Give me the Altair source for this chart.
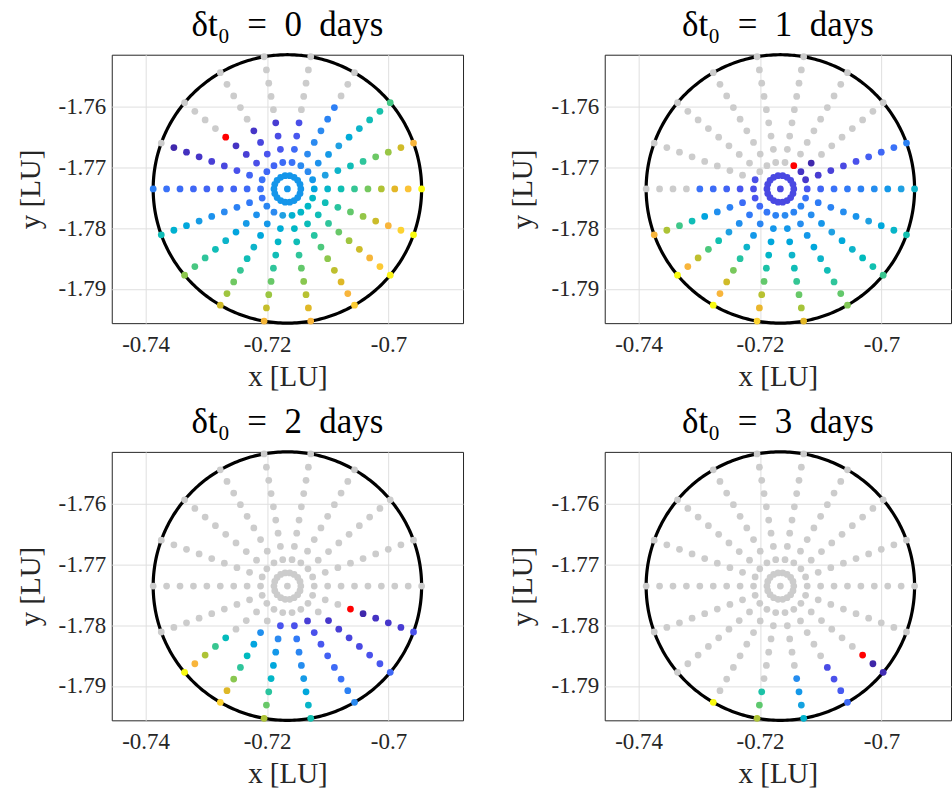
import numpy as np
import pandas as pd
import altair as alt

# ---------------- data ----------------
ANGLES_DEG = [0, 20, 40, 60, 80, 100, 120, 140, 160, 180, 200, 220, 240, 260, 280, 300, 320, 340]
RING_STEPS = [1, 2, 3, 4, 5, 6, 7, 8, 9, 10]          # radius = RADIUS * step / 10
CENTER_X, CENTER_Y, RADIUS = -0.71665, -1.77355, 0.0221

X_TICKS = [-0.74, -0.72, -0.70]
Y_TICKS = [-1.79, -1.78, -1.77, -1.76]
TITLES = ["δt₀\u2002=\u20020\u2002days", "δt₀\u2002=\u20021\u2002days",
          "δt₀\u2002=\u20022\u2002days", "δt₀\u2002=\u20023\u2002days"]

# colour levels (parula-like), value 0..16
PARULA_LEVELS = list(range(17))
PARULA_COLORS = ["#3e26a8", "#4839cf", "#4a54ee", "#3a72f8", "#2b8af0", "#1fa0e2",
                 "#0db4ca", "#10bdb7", "#2fc59b", "#55c874", "#82c856", "#a6c43a",
                 "#c8bd2b", "#e3b727", "#f8b53b", "#fcd231", "#f9fb0e"]

G = None  # grey (no value)

P0_CENTER = 4.5
P0 = [
    [4.5, 5.2, 6.1, 7.2, 8.2, 9.7, 11.3, 13, 14.5, 16],
    [4.5, 4.6, 5, 6, 7, 8, 9.5, 10.6, 12.3, 14],
    [4.5, 4, 4.3, 4.7, 5, 5.5, 6, 7, 7.5, 8.6],
    [4.5, 4, 4, 4, 4, 3.7, 3.5, G, G, G],
    [4.5, 3.0, 2.7, 2.1, 1.8, G, G, G, G, G],
    [4.5, 2.8, 2.1, 1.7, 1.1, G, G, G, G, G],
    [4.5, 2.5, 2.0, 1.5, 0.8, G, G, G, G, G],
    [4.5, 2.6, 1.8, 1.2, 0.7, G, G, G, G, G],
    [4.5, 3.0, 2.5, 1.9, 1.5, 1.2, 0.8, 0.6, 0.1, G],
    [4.5, 3.0, 2.7, 2.5, 2.5, 2.5, 2.6, 2.8, 3.0, 3.5],
    [4.5, 3.0, 3.3, 3.6, 4.0, 4.3, 4.8, 5.3, 5.8, 7.0],
    [4.5, 3.8, 4.3, 4.7, 5.2, 6.0, 7.0, 8.0, 8.7, 10.3],
    [4.5, 4.0, 4.6, 5.3, 6.0, 7.0, 8.2, 9.6, 10.8, 12.3],
    [4.5, 5.0, 5.6, 6.2, 7.0, 8.0, 9.4, 10.7, 11.9, 13.8],
    [4.5, 5.8, 6.3, 7.0, 8.0, 9.3, 10.2, 11.5, 12.9, 14.0],
    [4.5, 6.2, 6.9, 7.8, 8.8, 10.3, 11.7, 12.8, 14.0, 14.8],
    [4.5, 6.3, 7.0, 8.0, 9.4, 10.8, 12.2, 13.9, 14.7, 15.8],
    [4.5, 6.3, 7.0, 7.9, 9.3, 10.5, 12.1, 14.0, 15.0, 16.0],
]

P1_CENTER = 1.6
P1 = [
    [1.6, 2.1, 2.6, 3.0, 3.3, 3.6, 4.1, 4.6, 5.0, 6.0],
    [1.6, 0.9, 1.1, 1.3, 1.6, 1.9, 2.3, 2.6, 3.0, 3.6],
    [1.6, 0.7, 0.1, G, G, G, G, G, G, G],
    [1.6, G, G, G, G, G, G, G, G, G],
    [1.6, G, G, G, G, G, G, G, G, G],
    [1.6, G, G, G, G, G, G, G, G, G],
    [1.6, G, G, G, G, G, G, G, G, G],
    [1.6, G, G, G, G, G, G, G, G, G],
    [1.6, 1.8, G, G, G, G, G, G, G, G],
    [1.6, 1.8, 2.1, 2.5, 2.8, 3.0, G, G, G, G],
    [1.6, 2.0, 2.8, 3.6, 4.2, 5.2, 7.0, 8.5, 11.2, 14.0],
    [1.6, 2.7, 3.3, 4.2, 5.0, 7.3, 8.8, 11.7, 14.0, 16.0],
    [1.6, 3.2, 3.8, 4.6, 6.0, 7.8, 9.8, 12.3, 14.0, 16.0],
    [1.6, 3.6, 4.5, 5.3, 6.2, 7.6, 9.3, 11.5, 13.3, 15.0],
    [1.6, 4.0, 4.6, 5.3, 6.0, 7.0, 8.2, 9.4, 11.0, 13.0],
    [1.6, 3.7, 4.1, 4.6, 5.3, 6.0, 7.0, 8.0, 9.3, 10.0],
    [1.6, 3.7, 4.1, 4.5, 5.0, 5.4, 6.0, 6.7, 7.3, 8.3],
    [1.6, 3.0, 3.4, 3.7, 4.1, 4.4, 5.0, 5.3, 6.1, 7.3],
]

P2_CENTER = G
P2 = [[G] * 10 for _ in range(11)] + [
    [G, G, G, G, G, 6.8, 8.3, 11.2, 14.0, 16.0],
    [G, G, G, 4.2, 5.2, 6.6, 8.0, 10.2, 12.8, 15.0],
    [G, G, 2.0, 4.0, 4.6, 5.3, 6.2, 7.9, 9.4, 11.2],
    [G, G, 1.9, 3.3, 3.8, 4.1, 4.7, 5.3, 6.1, 7.3],
    [G, G, 1.2, 1.9, 2.1, 2.4, 2.7, 3.0, 3.6, 4.0],
    [G, G, G, 0.9, 1.2, 1.4, 1.6, 1.9, 2.1, 2.6],
    [G, G, G, G, G, 0.1, 0.7, 0.9, 1.1, 1.9],
]

P3_CENTER = G
P3 = [[G] * 10 for _ in range(12)] + [
    [G, G, G, G, G, G, G, G, G, 16.0],
    [G, G, G, G, G, G, G, 7.6, 9.2, 11.2],
    [G, G, G, G, G, G, 4.1, 4.6, 5.1, 5.9],
    [G, G, G, G, G, G, 1.7, 1.9, 2.2, 2.7],
    [G, G, G, G, G, G, G, G, 0.0, 0.3],
    [G] * 10,
]

# red marker per panel: (angle in degrees, ring step)
RED_POINTS = [(140, 6), (60, 2), (340, 5), (320, 8)]

PANELS = [(P0, P0_CENTER), (P1, P1_CENTER), (P2, P2_CENTER), (P3, P3_CENTER)]

# ---------------- geometry / layout ----------------
H = 269
W_LEFT, W_RIGHT = 352, 347
HALF_Y = RADIUS
PX_PER_UNIT = H / (2 * HALF_Y)
Y_DOMAIN = [CENTER_Y - HALF_Y, CENTER_Y + HALF_Y]
X_MIN = CENTER_X - (W_LEFT / 2) / PX_PER_UNIT

FONT = "Liberation Serif"
TXT = "#262626"
DOT = 46


def build_points(rows, center, red):
    recs = [{"x": CENTER_X, "y": CENTER_Y, "v": center,
             "kind": "grey" if center is None else "val"}]
    for ang, row in zip(ANGLES_DEG, rows):
        t = np.deg2rad(ang)
        for k, v in zip(RING_STEPS, row):
            r = RADIUS * k / 10
            kind = "grey" if v is None else "val"
            if (ang, k) == red:
                kind = "red"
            recs.append({"x": CENTER_X + r * np.cos(t), "y": CENTER_Y + r * np.sin(t),
                         "v": v, "kind": kind})
    return pd.DataFrame(recs)


tt = np.linspace(0, 2 * np.pi, 361)
circle_df = pd.DataFrame({"i": np.arange(361),
                          "x": CENTER_X + RADIUS * np.cos(tt),
                          "y": CENTER_Y + RADIUS * np.sin(tt)})


def panel(idx):
    rows, center = PANELS[idx]
    width = W_LEFT if idx % 2 == 0 else W_RIGHT
    xdom = [X_MIN, X_MIN + width / PX_PER_UNIT]
    df = build_points(rows, center, RED_POINTS[idx])

    xenc = alt.X("x:Q", scale=alt.Scale(domain=xdom, nice=False, zero=False),
                 axis=alt.Axis(values=X_TICKS, title="x [LU]",
                               labelExpr="replace(format(datum.value, '.2~f'), '\u2212', '-')"))
    yenc = alt.Y("y:Q", scale=alt.Scale(domain=Y_DOMAIN, nice=False, zero=False),
                 axis=alt.Axis(values=Y_TICKS, title="y [LU]",
                               labelExpr="replace(format(datum.value, '.2f'), '\u2212', '-')"))

    circ = alt.Chart(circle_df).mark_line(color="black", strokeWidth=3.2,
                                          strokeJoin="round").encode(
        x=xenc, y=yenc, order="i:Q")
    grey = alt.Chart(df[df.kind == "grey"]).mark_circle(
        color="#cccccc", size=DOT, opacity=1).encode(x=xenc, y=yenc)
    col = alt.Chart(df[df.kind == "val"]).mark_circle(size=DOT, opacity=1).encode(
        x=xenc, y=yenc,
        color=alt.Color("v:Q", legend=None,
                        scale=alt.Scale(domain=PARULA_LEVELS, range=PARULA_COLORS)))
    red = alt.Chart(df[df.kind == "red"]).mark_circle(
        color="#ff0000", size=DOT, opacity=1).encode(x=xenc, y=yenc)

    return alt.layer(circ, grey, col, red).properties(
        width=width, height=H,
        title=alt.TitleParams(TITLES[idx], fontSize=35, font=FONT, fontWeight="normal",
                              color="black", baseline="alphabetic", offset=-18,
                              anchor="middle"))


chart = alt.concat(panel(0), panel(1), panel(2), panel(3), columns=2,
                   spacing={"row": 129, "column": 142}, bounds="flush").properties(
    padding={"left": 15, "top": 6, "right": 0, "bottom": 0}
).configure_view(stroke="#262626", strokeWidth=1).configure_axis(
    labelFont=FONT, labelFontSize=23, labelColor=TXT,
    titleFont=FONT, titleFontSize=29, titleColor=TXT, titleFontWeight="normal",
    grid=True, gridColor="#dfdfdf", gridWidth=1, ticks=False, domain=False,
).configure_axisX(labelPadding=10, titlePadding=6).configure_axisY(
    labelPadding=6, titlePadding=13)

chart.save("out.html", embed_options={"renderer": "svg", "actions": False})
